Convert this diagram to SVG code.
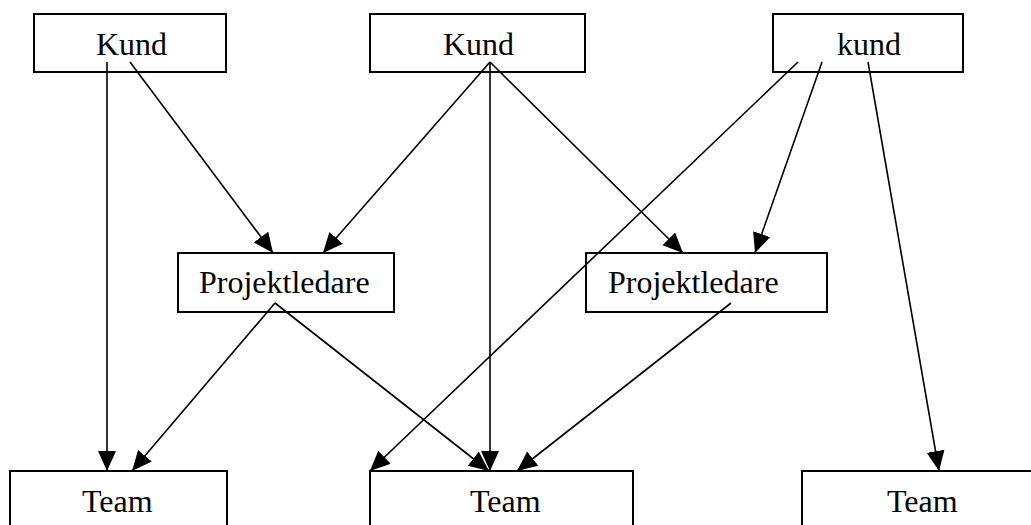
<svg xmlns="http://www.w3.org/2000/svg" width="1031" height="525" viewBox="0 0 1031 525">
<style>
.box{fill:#fff;stroke:#000;stroke-width:2}
.lbl{font-family:"Liberation Serif",serif;font-size:32px;fill:#000}
.c{stroke:#000;stroke-width:1.6;fill:none}
</style>
<defs>
<marker id="ah" markerUnits="userSpaceOnUse" markerWidth="22" markerHeight="20" refX="20" refY="9" orient="auto">
<path d="M0,0 L20,9 L0,18 Z" fill="#000"/>
</marker>
</defs>
<rect width="1031" height="525" fill="#fff"/>
<g id="kund1"><rect class="box" x="34" y="14" width="192" height="58"/><text class="lbl" x="96" y="55">Kund</text></g>
<g id="kund2"><rect class="box" x="370" y="14" width="215" height="58"/><text class="lbl" x="443" y="55">Kund</text></g>
<g id="kund3"><rect class="box" x="773" y="14" width="190" height="58"/><text class="lbl" x="837" y="55">kund</text></g>
<g id="pl1"><rect class="box" x="178" y="253" width="216" height="59"/><text class="lbl" x="199" y="293">Projektledare</text></g>
<g id="pl2"><rect class="box" x="586" y="253" width="241" height="59"/><text class="lbl" x="608" y="293">Projektledare</text></g>
<g id="team1"><rect class="box" x="10" y="471" width="217" height="80"/><text class="lbl" x="82" y="512">Team</text></g>
<g id="team2"><rect class="box" x="370" y="471" width="263" height="80"/><text class="lbl" x="470" y="512">Team</text></g>
<g id="team3"><rect class="box" x="802" y="471" width="240" height="80"/><text class="lbl" x="887" y="512">Team</text></g>
<g id="connectors">
<line class="c" x1="107" y1="62" x2="107" y2="471" marker-end="url(#ah)"/>
<line class="c" x1="130" y1="62" x2="273" y2="253" marker-end="url(#ah)"/>
<line class="c" x1="490" y1="62" x2="323" y2="253" marker-end="url(#ah)"/>
<line class="c" x1="490" y1="62" x2="490" y2="471" marker-end="url(#ah)"/>
<line class="c" x1="490" y1="62" x2="683" y2="253" marker-end="url(#ah)"/>
<line class="c" x1="798" y1="62" x2="370" y2="471" marker-end="url(#ah)"/>
<line class="c" x1="822" y1="62" x2="755" y2="253" marker-end="url(#ah)"/>
<line class="c" x1="868" y1="62" x2="939" y2="471" marker-end="url(#ah)"/>
<line class="c" x1="275" y1="303" x2="132" y2="471" marker-end="url(#ah)"/>
<line class="c" x1="275" y1="303" x2="489" y2="471" marker-end="url(#ah)"/>
<line class="c" x1="731" y1="303" x2="517" y2="471" marker-end="url(#ah)"/>
</g>
</svg>
